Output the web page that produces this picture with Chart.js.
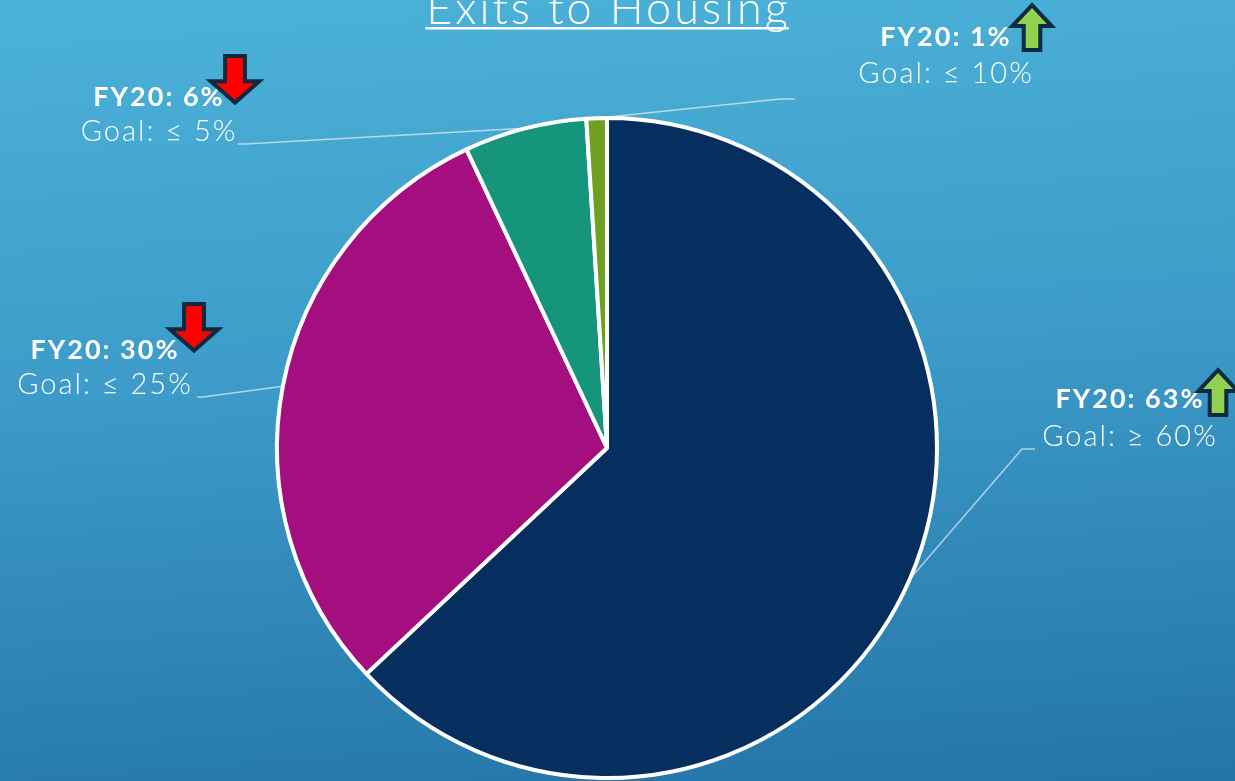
<!DOCTYPE html>
<html>
<head>
<meta charset="utf-8">
<script src="https://cdn.jsdelivr.net/npm/chart.js@4/dist/chart.umd.min.js"></script>
<style>
  html, body { margin: 0; padding: 0; width: 1235px; height: 781px; overflow: hidden; }
  body { background: linear-gradient(176deg, #4cb2d8 0%, #3d9cc9 45%, #2474a8 100%); }
  #wrap { position: relative; width: 1235px; height: 781px; }
</style>
</head>
<body>
<div id="wrap"><canvas id="pieChart"></canvas></div>
<script>
// Datos
const categories = ["Permanent Destinations", "Temporary Destinations", "Institutional Destinations", "Other Destinations"];
const values = [63, 30, 6, 1];
const goals = ["≥ 60%", "≤ 25%", "≤ 5%", "≤ 10%"];
const trends = ["up", "down", "down", "up"];
const sliceColors = ["#062f5f", "#a30f7f", "#15957b", "#6fa022"];
const titleText = "Exits to Housing";

// Posiciones de etiquetas (layout)
const labelLayout = [
  { cx: 1129, y1: 399, y2: 437, elbow: [1022, 449], end: [1035, 449], arrow: [1218, 373, 30, 40] },
  { cx: 104,  y1: 350, y2: 385, elbow: [203, 397],  end: [197, 397],  arrow: [194, 306, 38, 42] },
  { cx: 158,  y1: 97,  y2: 132, elbow: [245, 144],  end: [238, 144],  arrow: [235, 58, 38, 42] },
  { cx: 945,  y1: 37,  y2: 74,  elbow: [780, 99],   end: [795, 99],   arrow: [1032, 8, 30, 40] }
];

function drawArrow(ctx, x, top, w, h, dir) {
  const headH = h * 0.4;
  const shaftW = w * 0.42;
  ctx.beginPath();
  if (dir === "up") {
    ctx.moveTo(x, top);
    ctx.lineTo(x + w / 2, top + headH);
    ctx.lineTo(x + shaftW / 2, top + headH);
    ctx.lineTo(x + shaftW / 2, top + h);
    ctx.lineTo(x - shaftW / 2, top + h);
    ctx.lineTo(x - shaftW / 2, top + headH);
    ctx.lineTo(x - w / 2, top + headH);
  } else {
    ctx.moveTo(x, top + h);
    ctx.lineTo(x + w / 2, top + h - headH);
    ctx.lineTo(x + shaftW / 2, top + h - headH);
    ctx.lineTo(x + shaftW / 2, top);
    ctx.lineTo(x - shaftW / 2, top);
    ctx.lineTo(x - shaftW / 2, top + h - headH);
    ctx.lineTo(x - w / 2, top + h - headH);
  }
  ctx.closePath();
  ctx.fillStyle = dir === "up" ? "#92d050" : "#ff0000";
  ctx.strokeStyle = "#0c2b42";
  ctx.lineWidth = 8;
  ctx.lineJoin = "miter";
  ctx.stroke();
  ctx.fill();
}

const calloutPlugin = {
  id: "callouts",
  afterDatasetsDraw(chart) {
    const ctx = chart.ctx;
    const arcs = chart.getDatasetMeta(0).data;
    ctx.save();

    // Titulo
    ctx.fillStyle = "#ffffff";
    ctx.font = "300 45px Lato";
    ctx.letterSpacing = "3px";
    ctx.textAlign = "left";
    ctx.textBaseline = "alphabetic";
    const tw = ctx.measureText(titleText).width - 3;
    ctx.fillText(titleText, 607 - tw / 2, 24);
    ctx.fillRect(607 - tw / 2 - 1, 27, tw + 2, 2.5);

    arcs.forEach((arc, i) => {
      const L = labelLayout[i];
      const p = arc.getProps(["x", "y", "startAngle", "endAngle", "outerRadius"], true);
      const mid = (p.startAngle + p.endAngle) / 2;
      const sx = p.x + Math.cos(mid) * p.outerRadius;
      const sy = p.y + Math.sin(mid) * p.outerRadius;

      ctx.strokeStyle = "rgba(255,255,255,0.6)";
      ctx.lineWidth = 1.5;
      ctx.beginPath();
      ctx.moveTo(sx, sy);
      ctx.lineTo(L.elbow[0], L.elbow[1]);
      ctx.lineTo(L.end[0], L.end[1]);
      ctx.stroke();

      ctx.fillStyle = "#ffffff";
      ctx.textAlign = "left";
      ctx.textBaseline = "middle";
      ctx.font = "bold 27px Lato";
      ctx.letterSpacing = "2px";
      const t1 = "FY20: " + values[i] + "%";
      const w1 = ctx.measureText(t1).width - 2;
      ctx.fillText(t1, L.cx - w1 / 2, L.y1);
      ctx.font = "300 29px Lato";
      ctx.letterSpacing = "2px";
      const t2 = "Goal: " + goals[i];
      const w2 = ctx.measureText(t2).width - 2;
      ctx.fillText(t2, L.cx - w2 / 2, L.y2);
      ctx.letterSpacing = "0px";

      drawArrow(ctx, L.arrow[0], L.arrow[1], L.arrow[2], L.arrow[3], trends[i]);
    });
    ctx.restore();
  }
};

new Chart(document.getElementById("pieChart"), {
  type: "pie",
  data: {
    labels: categories,
    datasets: [{
      data: values,
      backgroundColor: sliceColors,
      borderColor: "#ffffff",
      borderWidth: 4,
      radius: 330,
      hoverOffset: 0
    }]
  },
  options: {
    responsive: true,
    maintainAspectRatio: false,
    animation: false,
    layout: { padding: { left: 0, right: 21, top: 115, bottom: 0 } },
    plugins: {
      legend: { display: false },
      tooltip: { enabled: true }
    }
  },
  plugins: [calloutPlugin]
});
</script>
</body>
</html>
